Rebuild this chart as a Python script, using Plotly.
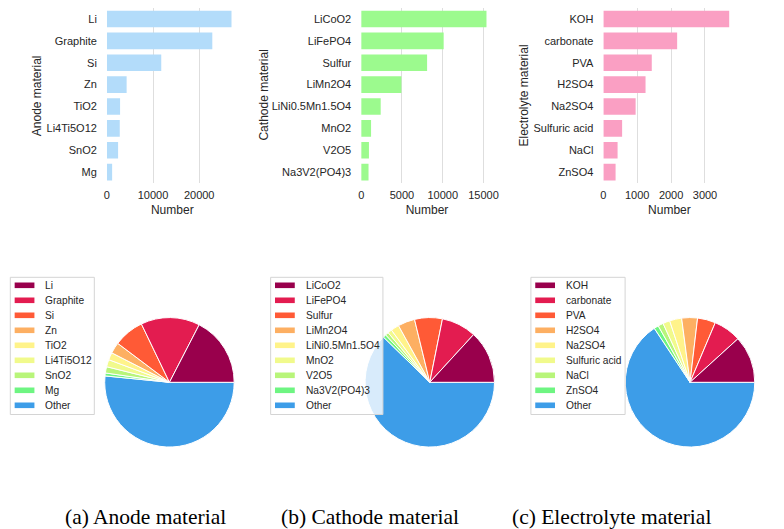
import plotly.graph_objects as go

# ---------------- data ----------------
anode_labels = ["Li", "Graphite", "Si", "Zn", "TiO2", "Li4Ti5O12", "SnO2", "Mg"]
anode_values = [27000, 22840, 11780, 4280, 2860, 2790, 2430, 1140]
anode_other = 80000

cathode_labels = ["LiCoO2", "LiFePO4", "Sulfur", "LiMn2O4", "LiNi0.5Mn1.5O4", "MnO2", "V2O5", "Na3V2(PO4)3"]
cathode_values = [15360, 10110, 8080, 4930, 2390, 1210, 950, 900]
cathode_other = 72600

electrolyte_labels = ["KOH", "carbonate", "PVA", "H2SO4", "Na2SO4", "Sulfuric acid", "NaCl", "ZnSO4"]
electrolyte_values = [3714, 2178, 1429, 1245, 953, 554, 420, 361]
electrolyte_other = 20790

axis_titles = ["Anode material", "Cathode material", "Electrolyte material"]
captions = ["(a) Anode material", "(b) Cathode material", "(c) Electrolyte material"]
x_title = "Number"
other_label = "Other"

# ---------------- style ----------------
PAGE_W, PAGE_H = 784, 529
OFF = 8  # default body margin of the html page
W, H = PAGE_W - OFF, PAGE_H - OFF
bar_colors = ["#b3dcfa", "#9cfa8e", "#fa9fc3"]
pie_colors = ["#99004c", "#e31c50", "#ff5a36", "#fdaf62", "#fff38a",
              "#f1fa8c", "#b8f57a", "#6ef582", "#3d9de8"]
TXT = "#262626"
SANS = "Liberation Sans, Arial, sans-serif"
SERIF = "Liberation Serif, Times New Roman, serif"


def fx(px):
    return (px - OFF) / W


def fy(py):
    return 1 - (py - OFF) / H


panels = [
    dict(labels=anode_labels, values=anode_values, other=anode_other,
         x0=105, x1=237.4, dtick=10000, xmax=28350,
         ytitle_x=34, pie_cx=168.3, leg_l=7.3, leg_w=85, cap_x=144),
    dict(labels=cathode_labels, values=cathode_values, other=cathode_other,
         x0=362.3, x1=495.4, dtick=5000, xmax=16128,
         ytitle_x=263, pie_cx=431.7, leg_l=270.7, leg_w=113.6, cap_x=371),
    dict(labels=electrolyte_labels, values=electrolyte_values, other=electrolyte_other,
         x0=607.3, x1=741, dtick=1000, xmax=3900,
         ytitle_x=527, pie_cx=695, leg_l=534, leg_w=95.3, cap_x=616),
]

bar_top, bar_bot = 8, 183
pie_cy, pie_r = 382.3, 65.5
leg_top, leg_bot = 277.3, 414.5
leg_first, leg_step = 285.3, 15

fig = go.Figure()
shapes = []
annotations = []

for i, p in enumerate(panels):
    n = i + 1
    xa = "x" if n == 1 else f"x{n}"
    ya = "y" if n == 1 else f"y{n}"
    fig.add_trace(go.Bar(
        x=p["values"], y=p["labels"], orientation="h",
        marker=dict(color=bar_colors[i], line=dict(width=0)),
        xaxis=xa, yaxis=ya, showlegend=False,
    ))
    xkey = "xaxis" if n == 1 else f"xaxis{n}"
    ykey = "yaxis" if n == 1 else f"yaxis{n}"
    fig.update_layout({
        xkey: dict(domain=[fx(p["x0"]), fx(p["x1"])], anchor=ya,
                   range=[0, p["xmax"]], tick0=0, dtick=p["dtick"],
                   tickformat="d", showgrid=True, gridcolor="#dedede",
                   gridwidth=1, zeroline=False, showline=False,
                   ticks="", ticklabelstandoff=4,
                   tickfont=dict(family=SANS, size=11, color=TXT),
                   title=dict(text=x_title, standoff=5,
                              font=dict(family=SANS, size=12, color=TXT))),
        ykey: dict(domain=[fy(bar_bot), fy(bar_top)], anchor=xa,
                   type="category", categoryorder="array",
                   categoryarray=p["labels"],
                   range=[len(p["labels"]) - 0.5, -0.5],
                   showgrid=False, zeroline=False, showline=False,
                   ticks="", ticklabelstandoff=9,
                   tickfont=dict(family=SANS, size=11, color=TXT)),
    })
    annotations.append(dict(
        text=axis_titles[i], x=fx(p["ytitle_x"]), y=fy((bar_top + bar_bot) / 2),
        xref="paper", yref="paper", textangle=-90, showarrow=False,
        xanchor="center", yanchor="middle",
        font=dict(family=SANS, size=12, color=TXT)))

    # pie: counter-clockwise from 3 o'clock == reversed order clockwise from 3 o'clock
    pie_labels = p["labels"] + [other_label]
    pie_values = p["values"] + [p["other"]]
    cx = p["pie_cx"]
    fig.add_trace(go.Pie(
        labels=pie_labels[::-1], values=pie_values[::-1], sort=False,
        direction="clockwise", rotation=90,
        textinfo="none", showlegend=False,
        marker=dict(colors=pie_colors[::-1], line=dict(color="white", width=1)),
        domain=dict(x=[fx(cx - pie_r), fx(cx + pie_r)],
                    y=[fy(pie_cy + pie_r), fy(pie_cy - pie_r)]),
    ))

    # legend box
    L = p["leg_l"]
    R = L + p["leg_w"]
    shapes.append(dict(type="rect", xref="paper", yref="paper",
                       x0=fx(L), x1=fx(R), y0=fy(leg_bot), y1=fy(leg_top),
                       fillcolor="rgba(255,255,255,0.8)",
                       line=dict(color="#d4d4d4", width=1), layer="above"))
    for k, (lab, col) in enumerate(zip(pie_labels, pie_colors)):
        yc = leg_first + leg_step * k
        shapes.append(dict(type="rect", xref="paper", yref="paper",
                           x0=fx(L + 4.4), x1=fx(L + 24.4),
                           y0=fy(yc + 2.8), y1=fy(yc - 2.8),
                           fillcolor=col, line=dict(width=0), layer="above"))
        annotations.append(dict(
            text=lab, x=fx(L + 33.5), y=fy(yc), xref="paper", yref="paper",
            showarrow=False, xanchor="left", yanchor="middle",
            font=dict(family=SANS, size=10.2, color=TXT)))

    annotations.append(dict(
        text=captions[i], x=fx(p["cap_x"]), y=fy(517), xref="paper", yref="paper",
        showarrow=False, xanchor="center", yanchor="middle",
        font=dict(family=SERIF, size=21.5, color="black")))

fig.update_layout(
    width=W, height=H, margin=dict(l=0, r=0, t=0, b=0),
    paper_bgcolor="white", plot_bgcolor="white",
    bargap=0.24, shapes=shapes, annotations=annotations,
)

fig.write_html("out.html")
